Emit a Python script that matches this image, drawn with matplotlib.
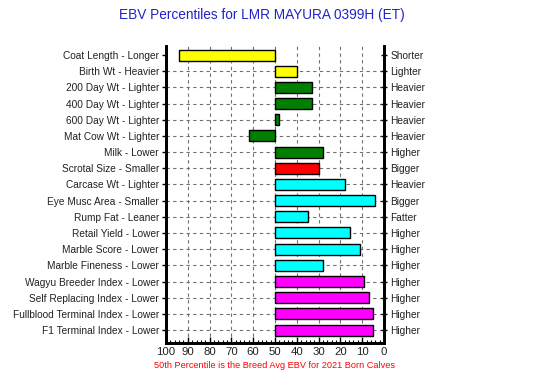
import matplotlib
matplotlib.use("Agg")
import matplotlib.pyplot as plt
from matplotlib.ticker import MultipleLocator

plt.rcParams['font.family'] = ['Liberation Sans', 'DejaVu Sans']

traits_low = ["Coat Length - Longer", "Birth Wt - Heavier", "200 Day Wt - Lighter",
              "400 Day Wt - Lighter", "600 Day Wt - Lighter", "Mat Cow Wt - Lighter",
              "Milk - Lower", "Scrotal Size - Smaller", "Carcase Wt - Lighter",
              "Eye Musc Area - Smaller", "Rump Fat - Leaner", "Retail Yield - Lower",
              "Marble Score - Lower", "Marble Fineness - Lower",
              "Wagyu Breeder Index - Lower", "Self Replacing Index - Lower",
              "Fullblood Terminal Index - Lower", "F1 Terminal Index - Lower"]
traits_high = ["Shorter", "Lighter", "Heavier", "Heavier", "Heavier", "Heavier",
               "Higher", "Bigger", "Heavier", "Bigger", "Fatter", "Higher",
               "Higher", "Higher", "Higher", "Higher", "Higher", "Higher"]
percentiles = [94, 40, 33, 33, 48, 62, 28, 30, 18, 4, 35, 15.5, 11, 28, 9, 7, 5, 5]
colors = ["#FFFF00", "#FFFF00", "#007F00", "#007F00", "#007F00", "#007F00",
          "#007F00", "#FF0000", "#00FFFF", "#00FFFF", "#00FFFF", "#00FFFF",
          "#00FFFF", "#00FFFF", "#FF00FF", "#FF00FF", "#FF00FF", "#FF00FF"]
baseline = 50

fig = plt.figure(figsize=(5.5, 3.7), dpi=100)
ax = fig.add_axes([166/550, 1-343/370, (384-166)/550, (343-46)/370])

n = len(percentiles)
ypos = list(range(n))
widths = [p - baseline for p in percentiles]

# gridlines
for y in ypos[1:]:
    ax.axhline(y, color="#707070", lw=0.8, ls=(0, (3, 3)), zorder=0)
for xv in range(10, 100, 10):
    ax.axvline(xv, color="#707070", lw=0.8, ls=(0, (3, 3)), zorder=0)

ax.barh(ypos, widths, left=baseline, height=0.68, color=colors,
        edgecolor="black", linewidth=1.0, zorder=3)

ax.set_xlim(100, 0)
ax.set_ylim(n - 1 + 0.8, -0.56)

ax.set_yticks(ypos)
ax.set_yticklabels(traits_low, fontsize=7.3, color="#222222")
ax.tick_params(axis='y', direction='out', length=3, width=1, pad=2)

ax.xaxis.set_major_locator(MultipleLocator(10))
ax.xaxis.set_minor_locator(MultipleLocator(2))
ax.tick_params(axis='x', which='major', direction='in', length=4, width=1,
               labelsize=8.2, labelcolor="#222222", pad=3)
ax.tick_params(axis='x', which='minor', direction='in', length=2, width=0.8)

ax2 = ax.twinx()
ax2.set_ylim(ax.get_ylim())
ax2.set_yticks(ypos)
ax2.set_yticklabels(traits_high, fontsize=7.3, color="#222222")
ax2.tick_params(axis='y', direction='inout', length=5, width=1, pad=2)

for a in (ax, ax2):
    a.spines['top'].set_visible(False)
    for s in ('left', 'right', 'bottom'):
        a.spines[s].set_linewidth(2)

fig.text(262/550, 1-15/370, "EBV Percentiles for LMR MAYURA 0399H (ET)",
         ha="center", va="center", fontsize=9.8, color="#2323C8")
fig.text(275/550, 1-369.5/370,
         "50th Percentile is the Breed Avg EBV for 2021 Born Calves",
         ha="center", va="bottom", fontsize=6.6, color="#FF0000")

fig.savefig("out.png", dpi=100)
